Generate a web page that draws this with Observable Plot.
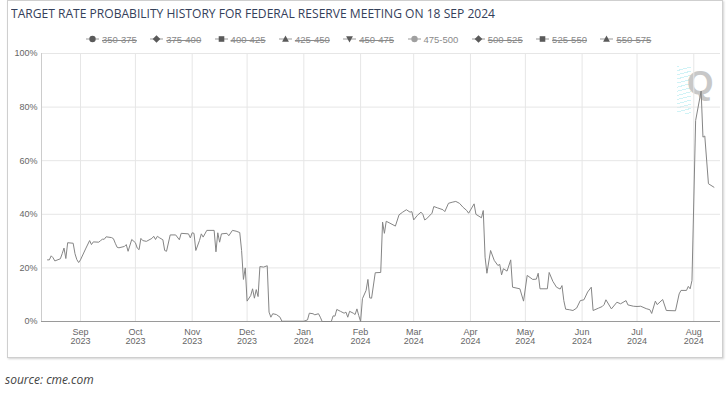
<!DOCTYPE html>
<html><head><meta charset="utf-8">
<script src="https://cdn.jsdelivr.net/npm/d3@7"></script>
<script src="https://cdn.jsdelivr.net/npm/@observablehq/plot@0.6"></script>
<style>
body{margin:0;background:#fff;width:728px;height:394px;position:relative;overflow:hidden;font-family:"Liberation Sans",Arial,sans-serif;}
#frame{position:absolute;left:7px;top:0;width:714px;height:356px;border:1px solid #cfcfcf;box-shadow:1px 1px 2px rgba(0,0,0,.18);}
#title{position:absolute;left:11px;top:5px;font-size:12.5px;color:#34405a;white-space:nowrap;transform-origin:0 0;font-family:"Open Sans","Liberation Sans",sans-serif;}
#legend{position:absolute;left:0;top:32px;width:728px;height:14px;}
.li{position:absolute;top:0;height:14px;display:flex;align-items:center;font-size:9.5px;color:#8a8a8a;white-space:nowrap;}
.li span{text-decoration:line-through;margin-left:3px;}
.li.on span{text-decoration:none;}
#chart{position:absolute;left:0;top:45px;}
#source{position:absolute;left:5px;top:371px;font-style:italic;font-size:12px;color:#444;font-family:"Open Sans",sans-serif;}
#wm{position:absolute;left:687px;top:63px;font:bold 34px "Liberation Sans",Arial,sans-serif;color:#c8c8c8;}
#wm2{position:absolute;left:677px;top:66px;width:14px;height:48px;background:repeating-linear-gradient(165deg,rgba(120,220,230,.35) 0 1px,transparent 1px 4px);}
</style></head>
<body>
<div id="frame"></div>
<div id="title">TARGET RATE PROBABILITY HISTORY FOR FEDERAL RESERVE MEETING ON 18 SEP 2024</div>
<div id="legend"></div>
<div id="wm2"></div><div id="wm">Q</div>
<div id="chart"></div>
<div id="source">source: cme.com</div>
<script>
// ---- data ----
const dates = [
"2023-08-14","2023-08-15","2023-08-16","2023-08-17","2023-08-18","2023-08-21","2023-08-22","2023-08-23","2023-08-24","2023-08-25","2023-08-28","2023-08-29","2023-08-30","2023-08-31",
"2023-09-01","2023-09-04","2023-09-06","2023-09-07","2023-09-08","2023-09-11","2023-09-12","2023-09-13","2023-09-14","2023-09-15","2023-09-18","2023-09-19","2023-09-20","2023-09-21","2023-09-22","2023-09-25","2023-09-26","2023-09-27","2023-09-29",
"2023-10-01","2023-10-02","2023-10-03","2023-10-04","2023-10-05","2023-10-07","2023-10-10","2023-10-11","2023-10-12","2023-10-13","2023-10-14","2023-10-16","2023-10-17","2023-10-18","2023-10-20","2023-10-23","2023-10-25","2023-10-26","2023-10-30","2023-10-31",
"2023-11-01","2023-11-02","2023-11-03","2023-11-05","2023-11-06","2023-11-07","2023-11-09","2023-11-13","2023-11-14","2023-11-15","2023-11-16","2023-11-17","2023-11-20","2023-11-21","2023-11-23","2023-11-25","2023-11-27","2023-11-28","2023-11-29","2023-11-30",
"2023-12-01","2023-12-03","2023-12-04","2023-12-05","2023-12-06","2023-12-07","2023-12-08","2023-12-10","2023-12-12","2023-12-13","2023-12-14","2023-12-15","2023-12-17","2023-12-19","2023-12-20",
"2024-01-01","2024-01-03","2024-01-04","2024-01-06","2024-01-07","2024-01-09","2024-01-10","2024-01-11","2024-01-16","2024-01-17","2024-01-18","2024-01-19","2024-01-21","2024-01-23","2024-01-24","2024-01-25","2024-01-26","2024-01-28","2024-01-29","2024-01-30","2024-01-31",
"2024-02-01","2024-02-02","2024-02-04","2024-02-05","2024-02-06","2024-02-07","2024-02-09","2024-02-12","2024-02-13","2024-02-14","2024-02-15","2024-02-17","2024-02-20","2024-02-22","2024-02-24","2024-02-26","2024-02-28","2024-02-29",
"2024-03-01","2024-03-03","2024-03-05","2024-03-06","2024-03-07","2024-03-08","2024-03-11","2024-03-12","2024-03-14","2024-03-17","2024-03-18","2024-03-20","2024-03-22","2024-03-24","2024-03-26","2024-03-28","2024-03-30","2024-03-31",
"2024-04-03","2024-04-04","2024-04-07","2024-04-08","2024-04-09","2024-04-10","2024-04-12","2024-04-14","2024-04-16","2024-04-17","2024-04-18","2024-04-19","2024-04-21","2024-04-23","2024-04-24","2024-04-28","2024-04-30",
"2024-05-02","2024-05-05","2024-05-07","2024-05-08","2024-05-09","2024-05-13","2024-05-14","2024-05-16","2024-05-18","2024-05-20","2024-05-21","2024-05-22","2024-05-23","2024-05-25","2024-05-27","2024-05-29","2024-05-31",
"2024-06-02","2024-06-04","2024-06-06","2024-06-07","2024-06-10","2024-06-12","2024-06-13","2024-06-14","2024-06-17","2024-06-20","2024-06-22","2024-06-25","2024-06-26","2024-06-29",
"2024-07-01","2024-07-03","2024-07-06","2024-07-08","2024-07-09","2024-07-11","2024-07-12","2024-07-15","2024-07-17","2024-07-22","2024-07-24","2024-07-25","2024-07-28","2024-07-29","2024-07-30","2024-07-31",
"2024-08-02","2024-08-05","2024-08-06","2024-08-07","2024-08-09","2024-08-12"
];
const prob475_500 = [
23.0,23.0,24.5,23.8,22.6,23.4,25.3,27.4,23.5,29.4,29.2,25.3,23.1,22.0,
23.0,27.4,30.2,28.7,29.7,29.6,30.2,30.7,30.7,31.6,31.3,30.9,29.2,27.7,27.5,28.0,28.7,26.2,30.6,
29.4,27.4,26.8,31.0,30.2,29.9,31.0,31.8,30.6,31.8,31.3,30.5,26.5,26.2,32.3,32.3,30.5,32.9,32.7,31.2,
33.1,32.9,26.5,30.2,32.7,31.5,34.0,34.0,26.0,33.1,29.6,32.7,32.9,32.0,34.0,33.7,33.2,26.5,15.7,20.0,
7.6,9.7,12.2,8.7,11.9,9.3,20.5,20.3,20.8,3.5,1.6,2.9,2.6,1.6,0.1,
0.1,0.6,3.1,2.9,2.5,2.9,1.6,0,0,2.1,2.0,4.5,3.8,3.1,3.5,1.6,3.8,3.1,2.6,4.7,2.2,
0,8.5,11.6,15.7,8.8,8.7,18.2,18.3,37.1,32.9,37.4,36.7,35.6,39.8,40.8,41.7,40.8,41.0,
37.9,39.6,40.8,40.0,37.9,38.3,40.4,42.9,42.4,41.7,41.0,44.1,44.5,44.8,44.1,42.6,41.4,40.4,
43.9,40.0,38.7,41.4,24.0,18.0,26.5,22.8,20.9,21.3,17.4,19.7,18.8,23.0,12.8,12.2,7.6,
17.2,15.7,15.8,18.0,12.2,12.2,18.3,15.0,12.8,12.1,13.4,7.8,4.6,4.4,4.1,5.0,7.8,
8.1,11.0,12.8,4.1,5.0,5.6,6.3,8.1,4.7,7.2,6.6,7.8,6.2,5.7,
5.6,5.7,4.8,4.4,3.0,7.6,6.3,8.2,4.1,4.0,10.3,11.6,11.6,13.1,12.2,15.3,
75.0,86.0,68.8,69.2,51.4,50.1
];
const xDomain = ["2023-08-10T17:00:00Z","2024-08-15T14:00:00Z"];
const monthTicks = ["2023-09-01","2023-10-01","2023-11-01","2023-12-01","2024-01-01","2024-02-01","2024-03-01","2024-04-01","2024-05-01","2024-06-01","2024-07-01","2024-08-01"];
const monthLabels = ["Sep\n2023","Oct\n2023","Nov\n2023","Dec\n2023","Jan\n2024","Feb\n2024","Mar\n2024","Apr\n2024","May\n2024","Jun\n2024","Jul\n2024","Aug\n2024"];
const yTicks = [0,20,40,60,80,100];
const yTickLabels = ["0%","20%","40%","60%","80%","100%"];
const legendLabels = ["350-375","375-400","400-425","425-450","450-475","475-500","500-525","525-550","550-575"];
const legendSymbols = ["circle","diamond","square","triangle","triangle-down","circle","diamond","square","triangle"];
const visibleSeries = "475-500";

// ---- build ----
const data = dates.map((d, i) => ({date: new Date(d), value: prob475_500[i]}));
const tickDates = monthTicks.map(d => new Date(d));
const fmtX = d => monthLabels[tickDates.findIndex(t => +t === +d)];
const fmtY = v => yTickLabels[yTicks.indexOf(v)];

const chart = Plot.plot({
  width: 728, height: 313,
  marginLeft: 41, marginRight: 8, marginTop: 8, marginBottom: 37,
  style: {fontFamily: '"Liberation Sans", Arial, sans-serif', fontSize: "9px", color: "#666", background: "transparent"},
  x: {type: "utc", domain: xDomain.map(d => new Date(d))},
  y: {domain: [0, 100]},
  marks: [
    Plot.gridX(tickDates, {stroke: "#e6e6e6", strokeOpacity: 1}),
    Plot.gridY(yTicks, {stroke: "#e6e6e6", strokeOpacity: 1}),
    Plot.ruleX([new Date(xDomain[0])], {stroke: "#cccccc"}),
    Plot.ruleY([0], {stroke: "#9a9a9a"}),
    Plot.line(data, {x: "date", y: "value", stroke: "#858585", strokeWidth: 1, curve: "linear"}),
    Plot.axisX(tickDates, {tickSize: 0, tickPadding: 6, tickFormat: fmtX, label: null, fill: "#666", lineHeight: 1.1}),
    Plot.axisY(yTicks, {tickSize: 0, tickPadding: 4, tickFormat: fmtY, label: null, fill: "#666"})
  ]
});
document.getElementById("chart").append(chart);

// legend
const leg = d3.select("#legend");
const shapes = {
  circle: "M3.2,0A3.2,3.2,0,1,1,-3.2,0A3.2,3.2,0,1,1,3.2,0Z",
  diamond: "M0,-3.8L3.8,0L0,3.8L-3.8,0Z",
  square: "M-2.8,-2.8H2.8V2.8H-2.8Z",
  triangle: "M0,-3.4L3.4,2.8H-3.4Z",
  "triangle-down": "M0,3.4L3.4,-2.8H-3.4Z"
};
legendLabels.forEach((lab, i) => {
  const on = lab === visibleSeries;
  const item = leg.append("div").attr("class", "li" + (on ? " on" : "")).style("left", (86 + i * 64.3) + "px");
  const svg = item.append("svg").attr("width", 13).attr("height", 14);
  svg.append("line").attr("x1", 0).attr("x2", 13).attr("y1", 7).attr("y2", 7).attr("stroke", "#999").attr("stroke-width", 1);
  svg.append("path").attr("d", shapes[legendSymbols[i]])
    .attr("transform", "translate(6.5,7)")
    .attr("fill", on ? "#a0a0a0" : "#5a5a5a");
  item.append("span").text(lab);
});

// fit title width
const t = document.getElementById("title");
const w = t.getBoundingClientRect().width;
t.style.transform = `scaleX(${484 / w})`;
</script>
</body></html>
